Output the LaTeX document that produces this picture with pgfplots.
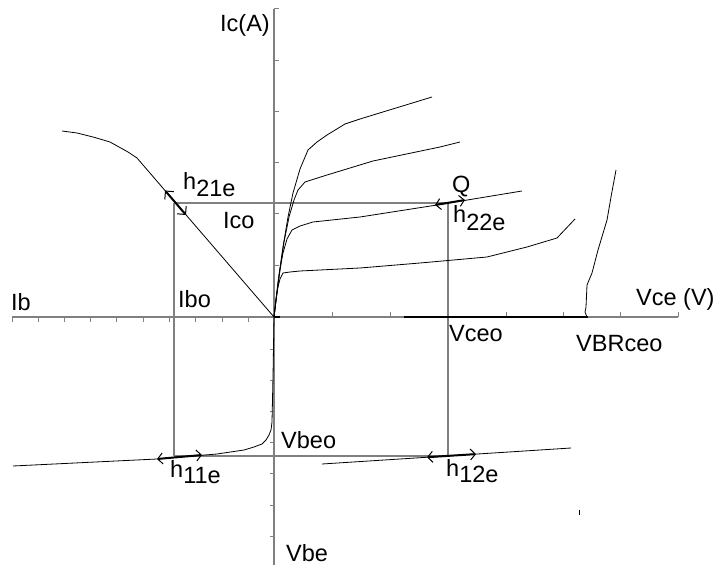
\documentclass[border=0pt]{standalone}
\usepackage{pgfplots}
\pgfplotsset{compat=1.18}
\usepackage{fontspec}
\setmainfont{Liberation Sans}
\usetikzlibrary{arrows.meta}

\tikzset{
  lbl/.style={font=\fontsize{23.5bp}{28bp}\selectfont, inner sep=0pt, anchor=base west},
  hpar/.style={black, line width=2bp,
    {Straight Barb[length=5bp,width=11bp,line width=1bp]}-{Straight Barb[length=5bp,width=11bp,line width=1bp]}},
}

\begin{document}
\begin{tikzpicture}
\begin{axis}[
  hide axis, scale only axis,
  width=720bp, height=566bp,
  xmin=-274, xmax=446, ymin=-249, ymax=317,
  clip=false,
]
% page frame
\addplot[draw=none] coordinates {(-274,-249) (446,317)};

% ---- axes (Ib left, Vce right, Ic up, Vbe down) ----
\addplot[gray, line width=1.2bp] coordinates {(-262,0) (404,0)};
\addplot[gray, line width=1.2bp] coordinates {(0,308) (0,-248)};
% Ib ticks (down)
\addplot[gray, line width=1bp, ycomb] coordinates {
  (-262,-5) (-236,-5) (-210,-5) (-184,-5) (-158,-5)
  (-131,-5) (-105,-5) (-79,-5) (-52,-5) (-26,-5)};
% Vce ticks (up)
\addplot[gray, line width=1bp, ycomb] coordinates {
  (58,5) (116,5) (174,5) (232,5) (289,5) (346,5) (404,5)};
% Ic ticks
\addplot[gray, line width=1bp, xcomb] coordinates {
  (5,308) (5,256) (5,205) (5,154) (5,103) (5,51)};
% Vbe ticks
\addplot[gray, line width=1bp, xcomb] coordinates {
  (-4,-32) (-4,-63) (-4,-94) (-4,-125) (-4,-156) (-4,-188) (-4,-219)};

% ---- operating point construction lines ----
\addplot[gray, line width=1.2bp] coordinates {(-100,114) (174,114)};
\addplot[gray, line width=1.2bp] coordinates {(-100,114) (-100,-139)};
\addplot[gray, line width=1.2bp] coordinates {(174,114) (174,-139)};
\addplot[gray, line width=1.2bp] coordinates {(-100,-139) (174,-139)};

% ---- output characteristics Ic(Vce) ----
\addplot[black, line width=0.8bp] coordinates {
  (0,0) (4,35) (9,70) (14,100) (19,124) (26,148) (34,167) (43,175)
  (53,182) (71,193) (86,198) (158,220)};
\addplot[black, line width=0.8bp] coordinates {
  (0,0) (5,40) (10,75) (15,100) (20,117) (24,127) (31,135) (53,142)
  (76,149) (99,156) (166,170) (186,175)};
\addplot[black, line width=0.8bp] coordinates {
  (0,0) (3,25) (6,48) (9,64) (13,78) (18,87) (26,91) (39,95)
  (86,100) (163,112) (248,126)};
\addplot[black, line width=0.8bp] coordinates {
  (0,0) (2,18) (4,30) (6,38) (9,44) (16,45) (26,46) (86,49)
  (146,54) (213,60) (253,70) (283,79) (301,98)};
% breakdown
\addplot[black, line width=0.8bp] coordinates {
  (313,0) (311,5) (312,10) (313,32) (318,44) (324,67) (333,97)
  (337,120) (342,147)};
\addplot[black, line width=2bp] coordinates {(130,0) (314,0)};
\addplot[black, line width=2bp] coordinates {(0,0) (6,0)};

% ---- transfer characteristic Ic(Ib) ----
\addplot[black, line width=0.8bp] coordinates {
  (-212,186) (-197,184) (-181,180) (-164,175) (-146,165) (-137,159) (0,0)};

% ---- input characteristic Vbe(Ib) ----
\addplot[black, line width=0.8bp] coordinates {
  (0,0) (-1,-60) (-2,-105) (-3,-113) (-5,-118) (-8,-123) (-12,-127)
  (-20,-130) (-30,-133) (-57,-137) (-100,-140.5) (-117,-142) (-261,-149)};

% ---- feedback characteristic Vbe(Vce) ----
\addplot[black, line width=0.8bp] coordinates {(48,-147) (297,-131)};

% ---- h-parameter slopes ----
\addplot[hpar, {Straight Barb[length=6bp,width=12bp,line width=1bp]}-{Straight Barb[length=6bp,width=12bp,line width=1bp]}]
  coordinates {(-109,126.5) (-88,102)};
\addplot[hpar] coordinates {(161,112) (191,117)};
\addplot[hpar] coordinates {(-117,-142) (-72,-138)};
\addplot[hpar] coordinates {(153,-140.2) (202,-137.1)};

% stray mark
\addplot[black, line width=0.8bp] coordinates {(305,-193) (305,-198)};

% ---- labels ----
\node[lbl, anchor=base east] at (axis cs:-4,285) {Ic(A)};
\node[lbl] at (axis cs:-91,127) {h\raisebox{-7bp}{21e}};
\node[lbl] at (axis cs:-51,88) {Ico};
\node[lbl] at (axis cs:178,124) {Q};
\node[lbl] at (axis cs:179,94) {h\raisebox{-8bp}{22e}};
\node[lbl] at (axis cs:-263,7) {Ib};
\node[lbl] at (axis cs:-96,10) {Ibo};
\node[lbl] at (axis cs:362,12) {Vce (V)};
\node[lbl] at (axis cs:175,-24) {Vceo};
\node[lbl] at (axis cs:302,-34) {VBRceo};
\node[lbl] at (axis cs:7,-131) {Vbeo};
\node[lbl] at (axis cs:-104,-160) {h\raisebox{-6bp}{11e}};
\node[lbl] at (axis cs:172,-159) {h\raisebox{-6bp}{12e}};
\node[lbl] at (axis cs:12,-244) {Vbe};
\end{axis}
\end{tikzpicture}
\end{document}
